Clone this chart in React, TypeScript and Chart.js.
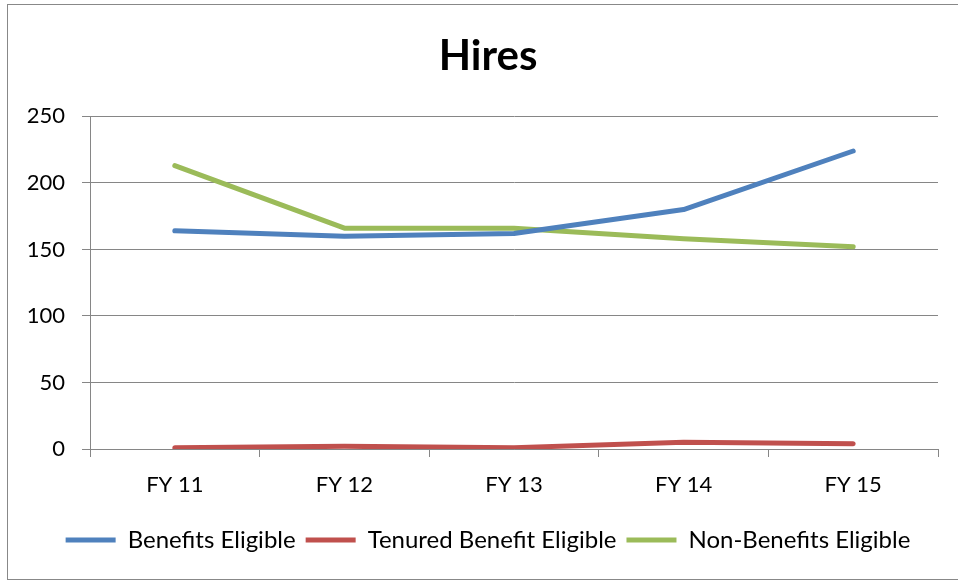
import React, { useEffect, useRef } from "react";
import { Chart, registerables } from "chart.js";

Chart.register(...registerables);

const categories = ["FY 11", "FY 12", "FY 13", "FY 14", "FY 15"];
const benefitsEligible = [164, 160, 162, 180, 224];
const tenuredBenefitEligible = [1, 2, 1, 5, 4];
const nonBenefitsEligible = [213, 166, 166, 158, 152];
const yMin = 0;
const yMax = 250;
const yStep = 50;

const FONT = "Lato, 'Open Sans', sans-serif";
const GRID = "#868686";

// shifts the title and legend boxes so they centre within the bordered frame
const shiftBlocks = {
  id: "shiftBlocks",
  afterLayout(chart: any) {
    const t = chart.titleBlock;
    if (t) {
      t.left = 38;
      t.width = t.right - t.left;
    }
    const l = chart.legend;
    if (l) {
      l.left = 38;
      l.width = l.right - l.left;
    }
  },
};

export default function App() {
  const ref = useRef<HTMLCanvasElement | null>(null);

  useEffect(() => {
    if (!ref.current) return;
    const mk = (label: string, data: number[], color: string) => ({
      label,
      data,
      borderColor: color,
      backgroundColor: color,
      borderWidth: 5,
      borderCapStyle: "round" as const,
      borderJoinStyle: "round" as const,
      pointRadius: 0,
      pointHoverRadius: 0,
      tension: 0,
      fill: false,
    });
    const chart = new Chart(ref.current, {
      type: "line",
      data: {
        labels: categories,
        datasets: [
          mk("Benefits Eligible", benefitsEligible, "#4F81BD"),
          mk("Tenured Benefit Eligible", tenuredBenefitEligible, "#C0504D"),
          mk("Non-Benefits Eligible", nonBenefitsEligible, "#9BBB59"),
        ],
      },
      plugins: [shiftBlocks],
      options: {
        animation: false,
        responsive: false,
        maintainAspectRatio: false,
        layout: { padding: { left: 0, right: 20, top: 0, bottom: 18 } },
        plugins: {
          tooltip: { enabled: false },
          title: {
            display: true,
            text: "Hires",
            color: "#000",
            font: { family: FONT, size: 42, weight: "bold" },
            padding: { top: 31, bottom: 35 },
          },
          legend: {
            position: "bottom",
            labels: {
              usePointStyle: true,
              pointStyle: "line",
              pointStyleWidth: 50,
              color: "#000",
              font: { family: FONT, size: 24 },
              padding: 10,
            },
          },
        },
        scales: {
          x: {
            type: "category",
            offset: true,
            grid: {
              offset: true,
              drawOnChartArea: false,
              drawTicks: true,
              tickLength: 8,
              color: GRID,
            },
            border: { display: true, color: GRID },
            ticks: {
              color: "#000",
              font: { family: FONT, size: 22 },
              padding: 15,
            },
            afterFit: (s: any) => {
              s.height = 69;
            },
          },
          y: {
            min: yMin,
            max: yMax,
            grid: { color: GRID, tickLength: 8, drawTicks: true },
            border: { display: true, color: GRID },
            ticks: {
              stepSize: yStep,
              color: "#000",
              font: { family: FONT, size: 22 },
              padding: 17,
            },
            afterFit: (s: any) => {
              s.width = 90;
            },
          },
        },
      },
    });
    return () => chart.destroy();
  }, []);

  return (
    <div style={{ position: "absolute", left: 0, top: 0, width: 958, height: 580 }}>
      <div
        style={{
          position: "absolute",
          left: 7,
          top: 4,
          width: 952,
          height: 576,
          boxSizing: "border-box",
          border: "1px solid #888888",
        }}
      />
      <canvas
        ref={ref}
        width={958}
        height={580}
        style={{ position: "absolute", left: 0, top: 0, width: 958, height: 580 }}
      />
    </div>
  );
}
